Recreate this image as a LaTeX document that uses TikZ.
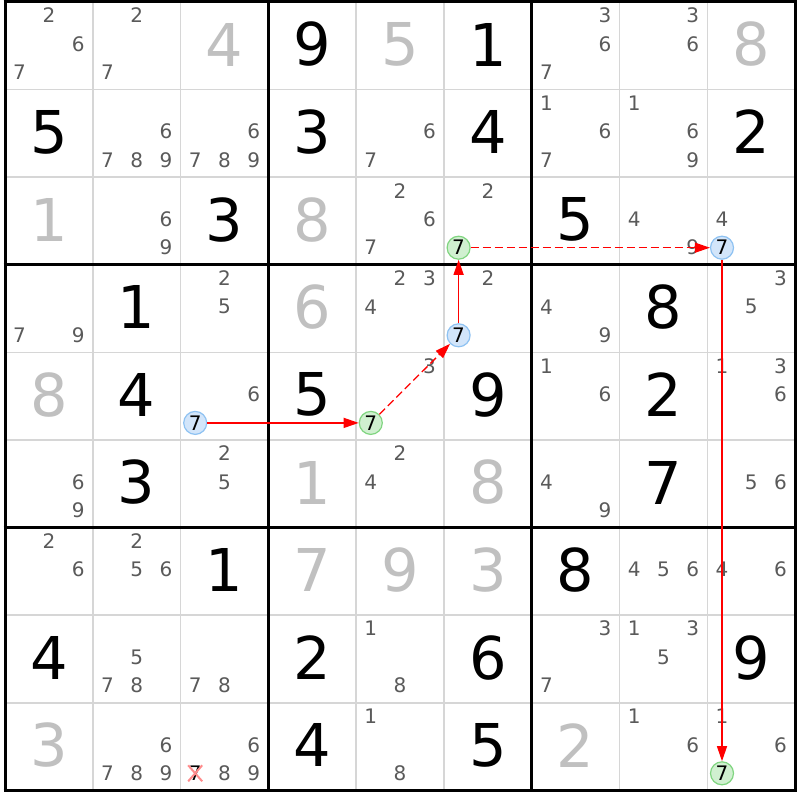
\documentclass[tikz,border=0pt]{standalone}
\usepackage{fontspec}
\setmainfont{DejaVu Sans}
\usetikzlibrary{arrows.meta, calc}
\definecolor{solvedgray}{HTML}{C0C0C0}
\definecolor{candgray}{HTML}{5A5A5A}
\definecolor{gridgray}{HTML}{D6D6D6}
\definecolor{bluefill}{HTML}{D2E5FA}
\definecolor{blueedge}{HTML}{8EC2F2}
\definecolor{greenfill}{HTML}{D0F0D0}
\definecolor{greenedge}{HTML}{80D580}

\tikzset{
    given/.style={font=\fontsize{59}{59}\selectfont, text=black, inner sep=0pt},
    solved/.style={given, text=solvedgray},
    cand/.style={font=\fontsize{20}{20}\selectfont, text=candgray, inner sep=0pt},
    oncand/.style={cand, text=black, circle, draw=blueedge, fill=bluefill, line width=1.2pt, minimum size=23pt},
    offcand/.style={oncand, draw=greenedge, fill=greenfill},
    strong/.style={red, line width=1.3pt, -{Triangle[length=15pt,width=10pt]}},
    weak/.style={strong, dash pattern=on 8pt off 4pt},
    cellline/.style={gridgray, line width=1.5pt},
    boxline/.style={black, line width=3pt},
}

\begin{document}
\begin{tikzpicture}[x=1pt, y=-1pt]
        \useasboundingbox (0,0) rectangle (800,800);
        \fill[white] (0,0) rectangle (800,800);

        \foreach \i in {1,2,4,5,7,8} {
            \draw[cellline] ({5+\i*87.8},2) -- ({5+\i*87.8},790.4);
            \draw[cellline] (5,{2+\i*87.6}) -- (795.2,{2+\i*87.6});
        }
        \foreach \i in {0,3,6,9} {
            \draw[boxline] ({5+\i*87.8},0.5) -- ({5+\i*87.8},791.9);
            \draw[boxline] (3.5,{2+\i*87.6}) -- (796.7,{2+\i*87.6});
        }

        \foreach \r/\c/\d in {1/4/9, 1/6/1, 2/1/5, 2/4/3, 2/6/4, 2/9/2, 3/3/3, 3/7/5,
                              4/2/1, 4/8/8, 5/2/4, 5/4/5, 5/6/9, 5/8/2, 6/2/3, 6/8/7,
                              7/3/1, 7/7/8, 8/1/4, 8/4/2, 8/6/6, 8/9/9, 9/4/4, 9/6/5}
            \node[given] at ({5+(\c-0.5)*87.8},{2+(\r-1)*87.6+42.5}) (g\r\c) {\d};

        \foreach \r/\c/\d in {1/3/4, 1/5/5, 1/9/8, 3/1/1, 3/4/8, 4/4/6, 5/1/8, 6/4/1,
                              6/6/8, 7/4/7, 7/5/9, 7/6/3, 9/1/3, 9/7/2}
            \node[solved] at ({5+(\c-0.5)*87.8},{2+(\r-1)*87.6+42.5}) (s\r\c) {\d};

        \foreach \r/\c/\ds in {1/1/{2,6,7}, 1/2/{2,7}, 1/7/{3,6,7}, 1/8/{3,6},
                               2/2/{6,7,8,9}, 2/3/{6,7,8,9}, 2/5/{6,7}, 2/7/{1,6,7}, 2/8/{1,6,9},
                               3/2/{6,9}, 3/5/{2,6,7}, 3/6/{2}, 3/8/{4,9}, 3/9/{4},
                               4/1/{7,9}, 4/3/{2,5}, 4/5/{2,3,4}, 4/6/{2}, 4/7/{4,9}, 4/9/{3,5},
                               5/3/{6}, 5/5/{3}, 5/7/{1,6}, 5/9/{1,3,6},
                               6/1/{6,9}, 6/3/{2,5}, 6/5/{2,4}, 6/7/{4,9}, 6/9/{5,6},
                               7/1/{2,6}, 7/2/{2,5,6}, 7/8/{4,5,6}, 7/9/{4,6},
                               8/2/{5,7,8}, 8/3/{7,8}, 8/5/{1,8}, 8/7/{3,7}, 8/8/{1,3,5},
                               9/2/{6,7,8,9}, 9/3/{6,8,9}, 9/5/{1,8}, 9/8/{1,6}, 9/9/{1,6}}
            \foreach \d in \ds
                \node[cand] at ({5+(\c-1)*87.8+14.6+mod(\d-1,3)*29.3},{2+(\r-1)*87.6+13.5+floor((\d-1)/3)*28.5}) (c\r\c\d) {\d};

        \foreach \r/\c/\s/\n in {5/3/oncand/a, 5/5/offcand/b, 4/6/oncand/c,
                                 3/6/offcand/d, 3/9/oncand/e, 9/9/offcand/f}
            \node[\s] at ({5+(\c-1)*87.8+14.6},{2+(\r-1)*87.6+70.5}) (\n) {7};

        \node[cand, text=black] at ({5+2*87.8+14.6},{2+8*87.6+70.5}) (x937) {7};
        \draw[red!45, line width=2pt] ($(x937)+(-7,-8)$) -- ($(x937)+(7,8)$);
        \draw[red!45, line width=2pt] ($(x937)+(-7,8)$) -- ($(x937)+(7,-8)$);

        \draw[strong] (a) -- (b);
        \draw[weak] (b) -- (c);
        \draw[strong] (c) -- (d);
        \draw[weak] (d) -- (e);
        \draw[strong] (e) -- (f);
    \end{tikzpicture}
\end{document}
